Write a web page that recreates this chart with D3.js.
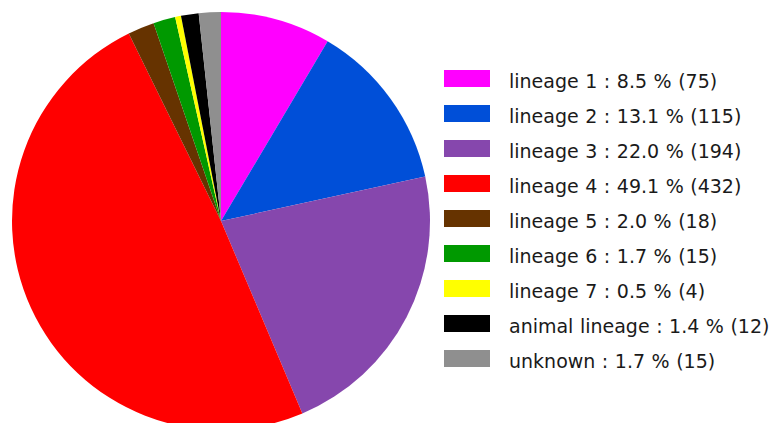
<!DOCTYPE html>
<html>
<head>
<meta charset="utf-8">
<script src="https://cdn.jsdelivr.net/npm/d3@7"></script>
<style>
  html, body { margin: 0; padding: 0; background: #fff; }
  svg { display: block; }
</style>
</head>
<body>
<svg id="chart" width="784" height="423"></svg>
<script>
// Isolate counts per lineage
const categories = ["lineage 1", "lineage 2", "lineage 3", "lineage 4", "lineage 5",
                    "lineage 6", "lineage 7", "animal lineage", "unknown"];
const counts = [75, 115, 194, 432, 18, 15, 4, 12, 15];
const percents = ["8.5", "13.1", "22.0", "49.1", "2.0", "1.7", "0.5", "1.4", "1.7"];
const colors = ["#ff00ff", "#004fd8", "#8647ad", "#ff0000", "#663300",
                "#009900", "#ffff00", "#000000", "#8f8f8f"];

const data = categories.map((c, i) => ({ name: c, value: counts[i], pct: percents[i], color: colors[i] }));

const svg = d3.select("#chart");
const cx = 221, cy = 221, radius = 209;

const pie = d3.pie().value(d => d.value).sort(null);
const arc = d3.arc().innerRadius(0).outerRadius(radius);

svg.append("g")
  .attr("transform", `translate(${cx},${cy})`)
  .selectAll("path")
  .data(pie(data))
  .join("path")
  .attr("d", arc)
  .attr("fill", d => d.data.color);

// Legend
const legendY = d3.scaleBand().domain(categories).range([61, 376]);
const legend = svg.append("g");
const rows = legend.selectAll("g").data(data).join("g")
  .attr("transform", d => `translate(0,${legendY(d.name) + legendY.bandwidth() / 2})`);

rows.append("rect")
  .attr("x", 444).attr("y", -8.5)
  .attr("width", 46).attr("height", 17)
  .attr("fill", d => d.color);

rows.append("text")
  .attr("x", 509).attr("y", 9.5)
  .attr("font-family", "'DejaVu Sans', sans-serif")
  .attr("font-size", 19)
  .attr("word-spacing", 0.5)
  .attr("fill", "#1a1a1a")
  .text(d => `${d.name} : ${d.pct} % (${d.value})`);
</script>
</body>
</html>
